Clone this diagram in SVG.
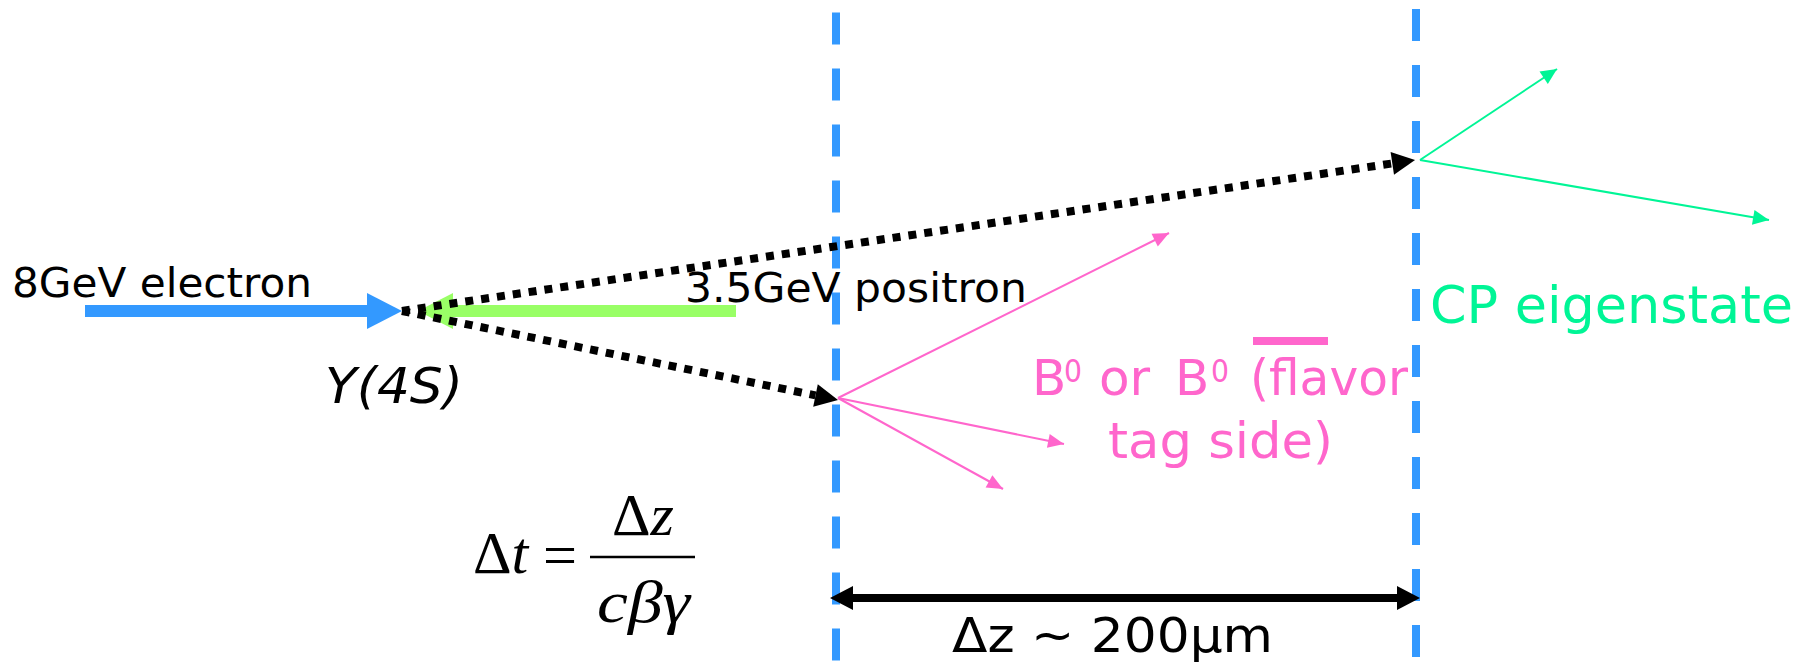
<svg xmlns="http://www.w3.org/2000/svg" width="1807" height="662" viewBox="0 0 1807 662">
<style>
.sans{font-family:"DejaVu Sans","Verdana",sans-serif;}
.serif{font-family:"Liberation Serif","Times New Roman",serif;}
.vline{stroke:#3399FF;stroke-width:8;stroke-dasharray:32 24;fill:none;}
.dot{stroke:#000;stroke-width:8;stroke-dasharray:8 8;fill:none;}
.pink{fill:#FF66CC;}
.cpc{fill:#00F596;}
.pl{stroke:#FF66CC;stroke-width:2;fill:none;marker-end:url(#hp);}
.gl{stroke:#00F596;stroke-width:2;fill:none;marker-end:url(#hg);}
</style>
<defs>
<marker id="hk" markerUnits="userSpaceOnUse" orient="auto" refX="0" refY="0" markerWidth="30" markerHeight="30" viewBox="0 -15 30 30" overflow="visible"><path d="M0,-11.5 L23,0 L0,11.5 z" fill="#000"/></marker>
<marker id="hp" markerUnits="userSpaceOnUse" orient="auto" refX="16" refY="0" markerWidth="20" markerHeight="20" viewBox="0 -10 20 20" overflow="visible"><path d="M0,-7 L16,0 L0,7 z" fill="#FF66CC"/></marker>
<marker id="hg" markerUnits="userSpaceOnUse" orient="auto" refX="16" refY="0" markerWidth="20" markerHeight="20" viewBox="0 -10 20 20" overflow="visible"><path d="M0,-7.5 L16,0 L0,7.5 z" fill="#00F596"/></marker>
</defs>
<rect width="1807" height="662" fill="#fff"/>

<g id="vertex-planes">
<line class="vline" x1="836" y1="12.5" x2="836" y2="662"/>
<line class="vline" x1="1416" y1="9" x2="1416" y2="662"/>
</g>

<g id="electron-beam">
<text class="sans" x="12" y="297" font-size="40" textLength="300" lengthAdjust="spacingAndGlyphs">8GeV electron</text>
</g>
<g id="positron-beam">
<text class="sans" x="685" y="302" font-size="40" textLength="342" lengthAdjust="spacingAndGlyphs">3.5GeV positron</text>
</g>
<g id="upsilon">
<text class="sans" x="325" y="403" font-size="50" font-style="italic" textLength="138" lengthAdjust="spacingAndGlyphs">Y(4S)</text>
</g>
<g id="btag" class="pink">
<text class="sans" x="1032" y="395" font-size="50">B</text>
<text class="sans" x="1064" y="382" font-size="32" textLength="18" lengthAdjust="spacingAndGlyphs">0</text>
<text class="sans" x="1099" y="395" font-size="50">or</text>
<text class="sans" x="1175" y="395" font-size="50">B</text>
<text class="sans" x="1211" y="382" font-size="32" textLength="18" lengthAdjust="spacingAndGlyphs">0</text>
<text class="sans" x="1250" y="395" font-size="50" textLength="158" lengthAdjust="spacingAndGlyphs">(flavor</text>
<rect x="1253" y="337" width="75" height="8"/>
<text class="sans" x="1108" y="458" font-size="50" textLength="225" lengthAdjust="spacingAndGlyphs">tag side)</text>
</g>
<g id="cp-eigenstate">
<text class="sans cpc" x="1430" y="323" font-size="52" textLength="363" lengthAdjust="spacingAndGlyphs">CP eigenstate</text>
</g>
<g id="formula" class="serif">
<text x="473" y="573" font-size="60">Δ<tspan font-style="italic">t</tspan></text>
<text x="543" y="575" font-size="60" textLength="34" lengthAdjust="spacingAndGlyphs">=</text>
<line x1="590" y1="557" x2="695" y2="557" stroke="#000" stroke-width="2.5"/>
<text x="612" y="535" font-size="60">Δ<tspan font-style="italic">z</tspan></text>
<text x="597" y="622" font-size="60" font-style="italic" textLength="93" lengthAdjust="spacingAndGlyphs">cβγ</text>
</g>
<g id="dz-label">
<text class="sans" x="952" y="652" font-size="48" textLength="321" lengthAdjust="spacingAndGlyphs">Δz ~ 200μm</text>
</g>

<g id="connectors">
<line x1="85" y1="311" x2="368" y2="311" stroke="#3399FF" stroke-width="12"/>
<path d="M402,311 L367,293 L367,329 z" fill="#3399FF"/>
<line x1="736" y1="311" x2="452" y2="311" stroke="#99FF66" stroke-width="12"/>
<path d="M418,311 L453,293 L453,329 z" fill="#99FF66"/>
<line class="dot" x1="402" y1="311" x2="1392.3" y2="163.4" marker-end="url(#hk)"/>
<line class="dot" x1="402" y1="311" x2="815.5" y2="395.4" marker-end="url(#hk)"/>
<line class="pl" x1="838" y1="398" x2="1169" y2="233"/>
<line class="pl" x1="838" y1="398" x2="1064" y2="444"/>
<line class="pl" x1="838" y1="398" x2="1003" y2="489"/>
<line class="gl" x1="1420" y1="160" x2="1557" y2="69"/>
<line class="gl" x1="1420" y1="160" x2="1769" y2="220"/>
<line x1="853" y1="598" x2="1397" y2="598" stroke="#000" stroke-width="8"/>
<path d="M830,598 L853,586 L853,610 z M1420,598 L1397,586 L1397,610 z" fill="#000"/>
</g>
</svg>
